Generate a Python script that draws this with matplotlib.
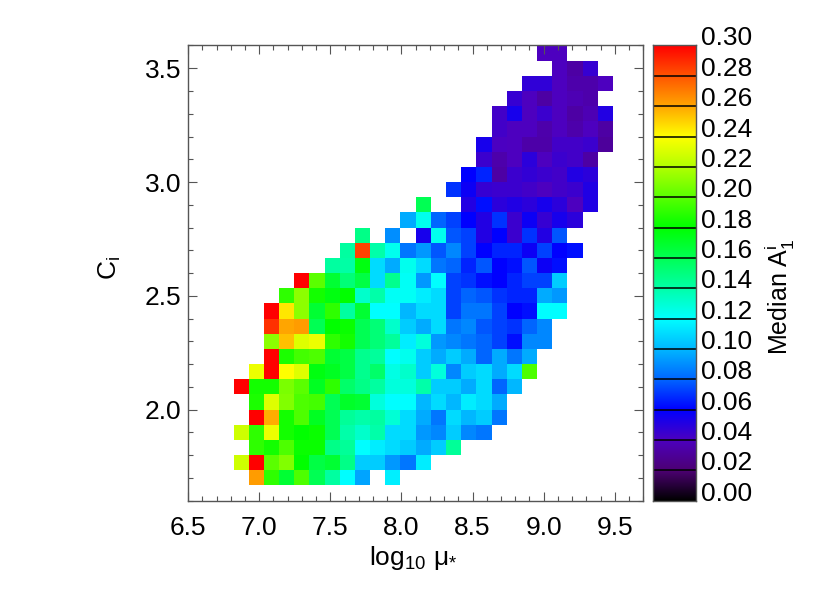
import numpy as np
import matplotlib
matplotlib.use("Agg")
import matplotlib.pyplot as plt
from matplotlib.colors import LinearSegmentedColormap, Normalize
from matplotlib.ticker import MultipleLocator

plt.rcParams['font.family'] = ['Liberation Sans', 'DejaVu Sans']
plt.rcParams['mathtext.fontset'] = 'custom'
plt.rcParams['mathtext.rm'] = 'Liberation Sans'
plt.rcParams['mathtext.it'] = 'Liberation Sans:italic'
plt.rcParams['mathtext.bf'] = 'Liberation Sans:bold'

# map binning: 30 x 30 cells spanning the axis ranges
x_edges = np.linspace(6.5, 9.7, 31)   # log10 mu_*
y_edges = np.linspace(1.6, 3.6, 31)   # C_i

# first filled column of every row (rows 1..29 counted from the bottom)
row_start = [4, 3, 4, 3, 4, 4, 3, 4, 5, 5, 5, 5, 6, 7, 9, 10, 11, 14, 15,
             17, 18, 19, 19, 20, 20, 21, 22, 24, 23]

nan = np.nan
# median A1^i in each cell
median_a1 = [
    [0.262, 0.19, 0.168, 0.197, 0.16, 0.142, 0.12, 0.095, nan, 0.116],
    [0.227, 0.30, 0.20, 0.209, 0.18, 0.164, 0.168, 0.148, 0.106, 0.106, 0.0925, 0.084, 0.115],
    [0.19, 0.184, 0.197, 0.182, 0.182, 0.148, 0.144, 0.12, 0.115, 0.11, 0.106, 0.097, 0.106, 0.144],
    [0.227, 0.19, 0.235, 0.184, 0.18, 0.182, 0.16, 0.14, 0.132, 0.14, 0.11, 0.11, 0.0925, 0.088,
     0.106, 0.088, 0.084],
    [0.30, 0.258, 0.184, 0.197, 0.172, 0.16, 0.144, 0.14, 0.142, 0.13, 0.11, 0.097, 0.084, 0.11,
     0.10, 0.106, 0.084],
    [0.186, 0.231, 0.209, 0.197, 0.195, 0.16, 0.17, 0.168, 0.128, 0.12, 0.12, 0.10, 0.11, 0.10,
     0.115, 0.11, 0.097],
    [0.30, 0.184, 0.184, 0.207, 0.20, 0.172, 0.19, 0.155, 0.148, 0.142, 0.128, 0.128, 0.14, 0.106,
     0.106, 0.097, 0.11, 0.08, 0.10],
    [0.235, 0.30, 0.24, 0.231, 0.176, 0.172, 0.164, 0.146, 0.155, 0.126, 0.132, 0.106, 0.128, 0.088,
     0.106, 0.11, 0.097, 0.11, 0.197],
    [0.30, 0.186, 0.195, 0.197, 0.168, 0.164, 0.146, 0.143, 0.12, 0.124, 0.106, 0.097, 0.106, 0.097,
     0.08, 0.097, 0.084, 0.097],
    [0.211, 0.254, 0.231, 0.235, 0.19, 0.184, 0.16, 0.152, 0.143, 0.115, 0.128, 0.0925, 0.088, 0.084,
     0.08, 0.073, 0.063, 0.088, 0.088],
    [0.288, 0.26, 0.262, 0.16, 0.18, 0.182, 0.16, 0.152, 0.132, 0.106, 0.097, 0.11, 0.084, 0.088,
     0.077, 0.073, 0.07, 0.08, 0.088],
    [0.30, 0.245, 0.211, 0.168, 0.19, 0.142, 0.168, 0.12, 0.12, 0.10, 0.11, 0.11, 0.073, 0.084,
     0.084, 0.073, 0.06, 0.063, 0.12, 0.12],
    [0.19, 0.211, 0.184, 0.176, 0.18, 0.132, 0.14, 0.122, 0.122, 0.115, 0.11, 0.073, 0.08, 0.077,
     0.07, 0.067, 0.067, 0.097, 0.0925],
    [0.30, 0.20, 0.168, 0.152, 0.164, 0.11, 0.146, 0.122, 0.0925, 0.12, 0.073, 0.07, 0.063, 0.06,
     0.067, 0.073, 0.073, 0.106],
    [0.142, 0.141, 0.176, 0.11, 0.097, 0.124, 0.11, 0.084, 0.08, 0.067, 0.077, 0.06, 0.063, 0.077,
     0.057, 0.063],
    [0.142, 0.284, 0.14, 0.124, 0.084, 0.0925, 0.077, 0.088, 0.073, 0.06, 0.067, 0.067, 0.057, 0.073,
     0.06, 0.063],
    [0.148, nan, 0.09, nan, 0.054, 0.124, 0.077, 0.073, 0.051, 0.06, 0.045, 0.07, 0.051, 0.077],
    [0.097, 0.124, 0.08, 0.073, 0.06, 0.051, 0.07, 0.045, 0.057, 0.046, 0.054, 0.049],
    [0.16, nan, nan, 0.051, 0.063, 0.049, 0.052, 0.049, 0.054, 0.049, 0.04, 0.052],
    [0.07, 0.057, 0.046, 0.045, 0.045, 0.043, 0.04, 0.043, 0.045, 0.052],
    [0.06, 0.067, 0.033, 0.045, 0.047, 0.045, 0.043, 0.051, 0.049],
    [0.045, 0.035, 0.04, 0.049, 0.04, 0.045, 0.043, 0.033],
    [0.054, 0.041, 0.04, 0.034, 0.034, 0.043, 0.043, 0.045, 0.031],
    [0.043, 0.04, 0.04, 0.035, 0.04, 0.035, 0.04, 0.033],
    [0.043, 0.054, 0.04, 0.045, 0.04, 0.033, 0.037, 0.051],
    [0.046, 0.04, 0.033, 0.04, 0.037, 0.035],
    [0.048, 0.048, 0.04, 0.035, 0.035, 0.04],
    [0.04, 0.033, 0.046],
    [0.04, 0.04],
]

cbar_ticks = np.arange(0.0, 0.301, 0.02)

# rainbow table similar to the IDL one: black -> purple -> blue -> cyan -> green -> yellow -> red
cmap_vals = [0.0, 0.02, 0.04, 0.06, 0.08, 0.10, 0.12, 0.14, 0.16, 0.18, 0.20, 0.22, 0.24, 0.26, 0.28, 0.30]
cmap_cols = [(0, 0, 0), (0.30, 0, 0.45), (0.30, 0, 0.75), (0, 0, 1), (0, 0.40, 1), (0, 0.72, 1),
             (0, 1, 1), (0, 1, 0.66), (0, 1, 0.33), (0, 1, 0), (0.35, 1, 0), (0.70, 1, 0),
             (1, 1, 0), (1, 0.65, 0), (1, 0.33, 0), (1, 0, 0)]
cmap = LinearSegmentedColormap.from_list(
    "idl_rainbow", [(v / 0.30, c) for v, c in zip(cmap_vals, cmap_cols)], N=512)
norm = Normalize(0.0, 0.30)

grid = np.full((30, 30), np.nan)
for j, (c0, vals) in enumerate(zip(row_start, median_a1), start=1):
    grid[j, c0:c0 + len(vals)] = vals

frame = '#555555'
fig = plt.figure(figsize=(8.3, 5.93), dpi=100)
ax = fig.add_axes([0.2266, 0.1557, 0.5484, 0.7676])
ax.pcolormesh(x_edges, y_edges, np.ma.masked_invalid(grid), cmap=cmap, norm=norm,
              shading='flat', edgecolors='none', antialiased=False)
ax.set_xlim(6.5, 9.7)
ax.set_ylim(1.6, 3.6)
ax.xaxis.set_major_locator(MultipleLocator(0.5))
ax.xaxis.set_minor_locator(MultipleLocator(0.1))
ax.yaxis.set_major_locator(MultipleLocator(0.5))
ax.yaxis.set_minor_locator(MultipleLocator(0.1))
ax.xaxis.set_major_formatter(lambda v, p: '%.1f' % v)
ax.yaxis.set_major_formatter(lambda v, p: '%.1f' % v)
ax.tick_params(which='both', direction='in', top=True, right=True, color=frame, width=0.8)
ax.tick_params(which='major', length=6.5)
ax.tick_params(which='minor', length=3.4)
ax.tick_params(axis='x', labelsize=19, pad=11)
ax.tick_params(axis='y', labelsize=19, pad=4.6)
for s in ax.spines.values():
    s.set_color(frame)
    s.set_linewidth(1)

fig.text(413 / 830, 1 - 565 / 593, r'log$_\mathregular{10}$ μ$_\mathregular{*}$',
         fontsize=19, ha='center', va='baseline')
fig.text(110 / 830, 1 - 268 / 593, r'C$_\mathregular{i}$', fontsize=19,
         rotation=90, ha='center', va='center')

# colour bar with a black line at every tick
cax = fig.add_axes([0.7871, 0.1557, 0.0511, 0.7676])
grad = np.linspace(0, 0.30, 512).reshape(-1, 1)
cax.imshow(grad, cmap=cmap, norm=norm, origin='lower', aspect='auto', extent=[0, 1, 0, 0.30])
for t in cbar_ticks[1:-1]:
    cax.axhline(t, color='black', lw=1.1)
cax.set_xticks([])
cax.yaxis.tick_right()
cax.set_yticks(cbar_ticks)
cax.set_yticklabels(['%.2f' % t for t in cbar_ticks])
cax.tick_params(axis='y', length=0, labelsize=19, pad=3.8)
for lab in cax.get_yticklabels():
    lab.set_va('baseline')
for s in cax.spines.values():
    s.set_color(frame)
    s.set_linewidth(1)

fig.text(780 / 830, 1 - 297 / 593, r'Median $\mathregular{A_1^i}$', fontsize=18,
         rotation=90, ha='center', va='center')

fig.savefig('out.png', dpi=100)
